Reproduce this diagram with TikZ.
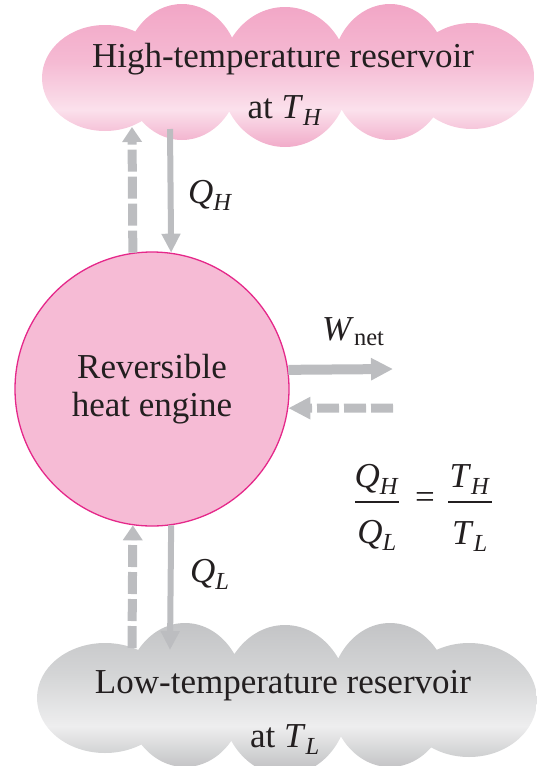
\documentclass[tikz,border=0pt]{standalone}
\usepackage{fontspec}
\setmainfont{Liberation Serif}
\usetikzlibrary{arrows.meta}
\definecolor{ink}{HTML}{231F20}
\definecolor{arr}{HTML}{BCBDC0}
\definecolor{engfill}{HTML}{F6BBD5}
\definecolor{engline}{HTML}{E5288A}
\definecolor{pkT}{HTML}{F2A6C6}
\definecolor{pkM}{HTML}{F5BAD3}
\definecolor{pkL}{HTML}{FBE1EC}
\definecolor{pkB}{HTML}{F1ABC9}
\definecolor{gyT}{HTML}{C3C4C6}
\definecolor{gyM}{HTML}{D4D5D6}
\definecolor{gyL}{HTML}{EEEEEF}
\definecolor{gyB}{HTML}{BBBCBE}
\pgfdeclareverticalshading{pinkcl}{100bp}{color(0bp)=(pkB); color(25bp)=(pkB); color(38bp)=(pkL); color(55bp)=(pkM); color(75bp)=(pkT); color(100bp)=(pkT)}
\pgfdeclareverticalshading{graycl}{100bp}{color(0bp)=(gyB); color(25bp)=(gyB); color(41bp)=(gyL); color(58bp)=(gyM); color(75bp)=(gyT); color(100bp)=(gyT)}
\newcommand{\qv}[2]{\textit{#1}\textsubscript{\textit{#2}}}
\tikzset{
  txt/.style={text=ink, font=\fontsize{35}{38}\selectfont, inner sep=0pt},
  solidarr/.style={draw=arr, line width=6pt, -{Triangle[length=19pt,width=18pt]}},
  dasharr/.style={draw=arr, line width=9pt, dash pattern=on 22pt off 5pt, -{Triangle[length=15pt,width=19pt]}},
  warr/.style={draw=arr, line width=10pt, -{Triangle[length=22pt,width=21pt]}},
  wdash/.style={draw=arr, line width=9pt, dash pattern=on 22pt off 5pt, -{Triangle[length=22pt,width=21pt]}},
  fracbar/.style={draw=ink, line width=2pt},
}
\begin{document}
\begin{tikzpicture}[x=1pt,y=-1pt]
\useasboundingbox (0,0) rectangle (537,766);
% high-temperature reservoir cloud
\shade[shading=pinkcl]
  (105,78) ellipse [x radius=63pt, y radius=53pt]
  (182,72) ellipse [x radius=58pt, y radius=68pt]
  (285,77) ellipse [x radius=64pt, y radius=70pt]
  (390,72) ellipse [x radius=58pt, y radius=68pt]
  (472,76) ellipse [x radius=62pt, y radius=53pt];
% low-temperature reservoir cloud
\shade[shading=graycl]
  (105,698) ellipse [x radius=68pt, y radius=55pt]
  (185,695) ellipse [x radius=60pt, y radius=72pt]
  (285,700) ellipse [x radius=64pt, y radius=75pt]
  (390,695) ellipse [x radius=60pt, y radius=72pt]
  (469,700) ellipse [x radius=68pt, y radius=57pt];
% texts in clouds
\node[txt, anchor=base] (hot1) at (283,67) {High-temperature reservoir};
\node[txt, anchor=base] (hot2) at (285,118) {at \qv TH};
\node[txt, anchor=base] (cold1) at (283,693) {Low-temperature reservoir};
\node[txt, anchor=base] (cold2) at (285,747) {at \qv TL};
% engine
\node[circle, fill=engfill, draw=engline, line width=1.3pt, minimum size=274pt, inner sep=0pt,
      txt, align=center, font=\fontsize{35}{38}\selectfont] (engine) at (152,389) {Reversible\\heat engine};
% connector end points
\coordinate (hsolid) at (170,129);
\coordinate (hdash) at (132,127);
\coordinate (lsolid) at (170,650);
\coordinate (ldash) at (132,648);
\coordinate (wout) at (393,369);
\coordinate (win) at (393,408);
% arrows
\draw[solidarr] (hsolid) -- (engine.82.5);
\draw[dasharr] (engine.98.4) -- (hdash);
\draw[solidarr] (engine.-82.5) -- (lsolid);
\draw[dasharr] (ldash) -- (engine.-98.4);
\draw[warr] (engine.8.4) -- (wout);
\draw[wdash] (win) -- (engine.-8);
% labels
\node[txt, anchor=base west] (qh) at (188,203) {\qv QH};
\node[txt, anchor=base west] (ql) at (190,582) {\qv QL};
\node[txt, anchor=base west] (wnet) at (322,340) {\textit{W}\textsubscript{net}};
% ratio equation
\node[txt, anchor=base] (num1) at (377,487) {\qv QH};
\node[txt, anchor=base] (den1) at (377,543) {\qv QL};
\node[txt] (eq) at (425,500) {=};
\node[txt, anchor=base] (num2) at (470,487) {\qv TH};
\node[txt, anchor=base] (den2) at (470,544) {\qv TL};
\coordinate (b1l) at (355,502); \coordinate (b1r) at (399,502);
\coordinate (b2l) at (448,502); \coordinate (b2r) at (492,502);
\draw[fracbar] (b1l) -- (b1r);
\draw[fracbar] (b2l) -- (b2r);
\end{tikzpicture}
\end{document}
